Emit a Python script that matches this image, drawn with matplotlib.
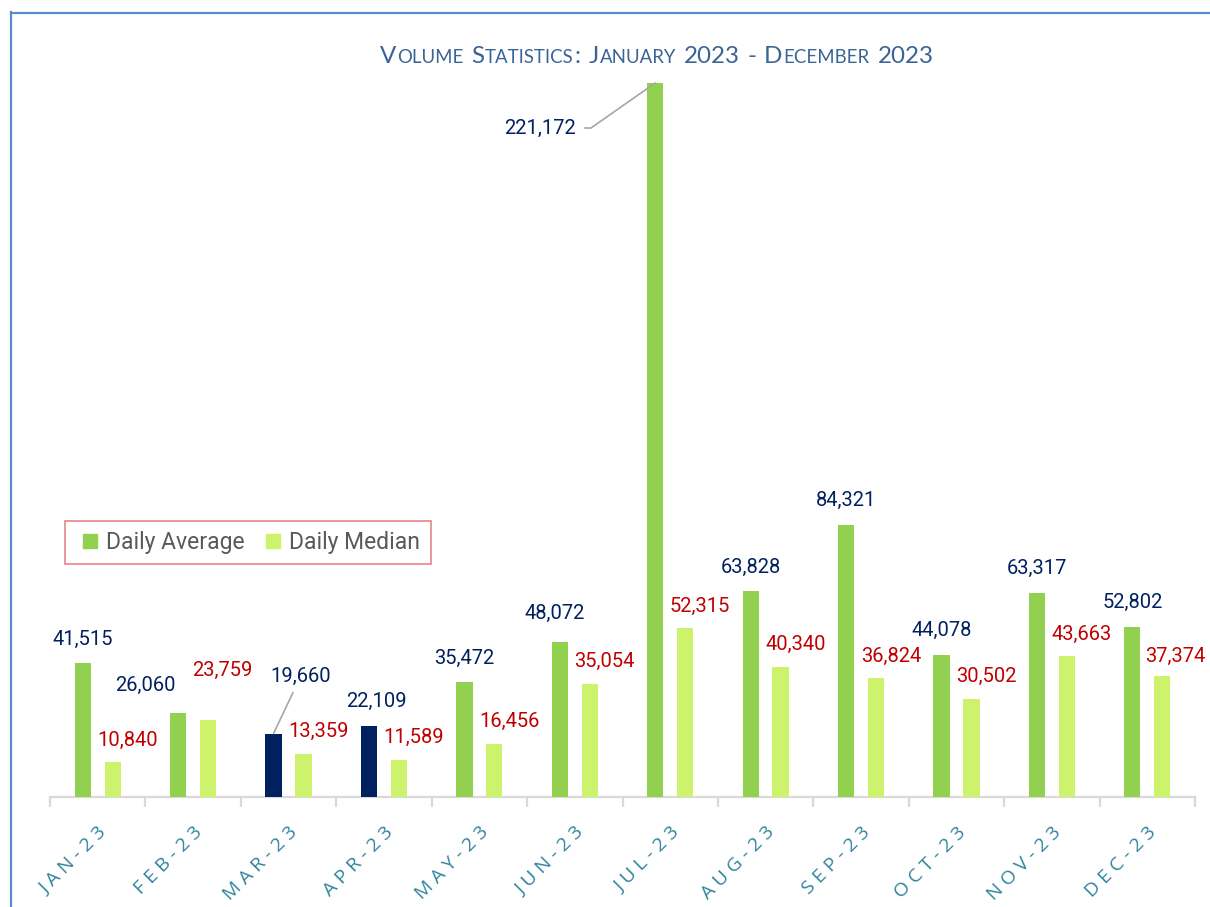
import matplotlib
matplotlib.use("Agg")
import matplotlib.pyplot as plt
from matplotlib.lines import Line2D
import numpy as np

months = ["JAN-23", "FEB-23", "MAR-23", "APR-23", "MAY-23", "JUN-23",
          "JUL-23", "AUG-23", "SEP-23", "OCT-23", "NOV-23", "DEC-23"]
daily_average = [41515, 26060, 19660, 22109, 35472, 48072,
                 221172, 63828, 84321, 44078, 63317, 52802]
daily_median = [10840, 23759, 13359, 11589, 16456, 35054,
                52315, 40340, 36824, 30502, 43663, 37374]
highlight = ["MAR-23", "APR-23"]
title = "Volume Statistics: January 2023 - December 2023"

GREEN = "#92D050"
LIGHT = "#CDF26C"
NAVY = "#002060"
RED = "#C00000"

plt.rcParams["font.family"] = ["Roboto", "DejaVu Sans"]

W, H = 1210, 907
fig = plt.figure(figsize=(W / 100, H / 100), dpi=100)
ax = fig.add_axes([50 / W, 110 / H, 1145 / W, 714 / H])

x = np.arange(len(months))
off, bw = 0.157, 0.17
avg_colors = [NAVY if m in highlight else GREEN for m in months]
ax.bar(x - off, daily_average, bw, color=avg_colors, zorder=3)
ax.bar(x + off, daily_median, bw, color=LIGHT, zorder=3)

ax.set_xlim(-0.5, len(months) - 0.5)
ax.set_ylim(0, max(daily_average))

# data labels (offsets in pixels, mimicking Excel's placement)
fs = 14.5
avg_off = {1: (-33, 27), 3: (7, 24), 5: (-5, 28)}
med_off = {1: (14, 50), 11: (13, 20)}
for i in range(len(months)):
    if i == 2:
        ax.annotate(f"{daily_average[i]:,}", (x[i] - off, daily_average[i]),
                    xytext=(27, 57), textcoords="offset pixels", ha="center", va="center",
                    color=NAVY, fontsize=fs,
                    arrowprops=dict(arrowstyle="-", color="#A6A6A6", lw=1.2,
                                    shrinkA=3, shrinkB=0))
    elif i == 6:
        ax.annotate(f"{daily_average[i]:,}", (x[i] - off, daily_average[i]),
                    xytext=(-115, -45), textcoords="offset pixels", ha="center", va="center",
                    color=NAVY, fontsize=fs, annotation_clip=False,
                    arrowprops=dict(arrowstyle="-", color="#A6A6A6", lw=1.2,
                                    shrinkA=4, shrinkB=0,
                                    connectionstyle="angle,angleA=0,angleB=35,rad=0"))
    else:
        dx, dy = avg_off.get(i, (0, 24))
        ax.annotate(f"{daily_average[i]:,}", (x[i] - off, daily_average[i]),
                    xytext=(dx, dy), textcoords="offset pixels", ha="center", va="center",
                    color=NAVY, fontsize=fs)
    dx, dy = med_off.get(i, (15, 22))
    ax.annotate(f"{daily_median[i]:,}", (x[i] + off, daily_median[i]),
                xytext=(dx, dy), textcoords="offset pixels", ha="center", va="center",
                color=RED, fontsize=fs)

# axes styling
for s in ["top", "right", "left"]:
    ax.spines[s].set_visible(False)
ax.spines["bottom"].set_color("#D9D9D9")
ax.spines["bottom"].set_linewidth(1.6)
ax.set_yticks([])
ax.set_xticks(x)
ax.set_xticklabels([" ".join(m) for m in months], rotation=45, ha="right",
                   rotation_mode="anchor", color="#31859C", fontsize=14,
                   family=["Open Sans", "DejaVu Sans"])
ax.set_xticks(np.arange(-0.5, len(months)), minor=True)
ax.tick_params(axis="x", which="major", length=0, pad=19)
ax.tick_params(axis="x", which="minor", length=7, color="#D9D9D9", width=1.6)

handles = [Line2D([], [], ls="none", marker="s", ms=10.5, color=GREEN),
           Line2D([], [], ls="none", marker="s", ms=10.5, color=LIGHT)]
leg = ax.legend(handles, ["Daily Average", "Daily Median"],
                loc="upper left", bbox_to_anchor=(0.013, 0.387), borderaxespad=0,
                ncol=2, fancybox=False, fontsize=16.5, handlelength=1.3,
                handletextpad=0.05, columnspacing=0.6, borderpad=0.45,
                labelcolor="#595959")
leg.get_frame().set_edgecolor("#E06666")
leg.get_frame().set_linewidth(1.2)

# small-caps title
renderer = fig.canvas.get_renderer()
big, small = 17.4, 13.4
parts, xpos = [], 0.0
gap = 0.28 * big * 100 / 72 / W
for word in title.split(" "):
    runs = []
    for ch in word:
        size = small if ch.islower() else big
        if runs and runs[-1][1] == size:
            runs[-1][0] += ch
        else:
            runs.append([ch, size])
    for s, size in runs:
        t = fig.text(0, 1 - 63 / H, s.upper(), fontsize=size, color="#3B6496",
                     ha="left", va="baseline", family=["Lato", "DejaVu Sans"])
        w = t.get_window_extent(renderer).width / W
        parts.append((t, xpos))
        xpos += w + 0.0008
    xpos += gap
xpos -= gap
for t, x0 in parts:
    t.set_x(657 / W - xpos / 2 + x0)

# outer frame lines
fc = "#5B8BCB"
fig.add_artist(Line2D([10.5 / W, 10.5 / W], [0, 1 - 12 / H], color=fc, lw=1.6))
fig.add_artist(Line2D([10.5 / W, 1], [1 - 12.5 / H, 1 - 12.5 / H], color=fc, lw=1.6))

fig.savefig("out.png", dpi=100)
